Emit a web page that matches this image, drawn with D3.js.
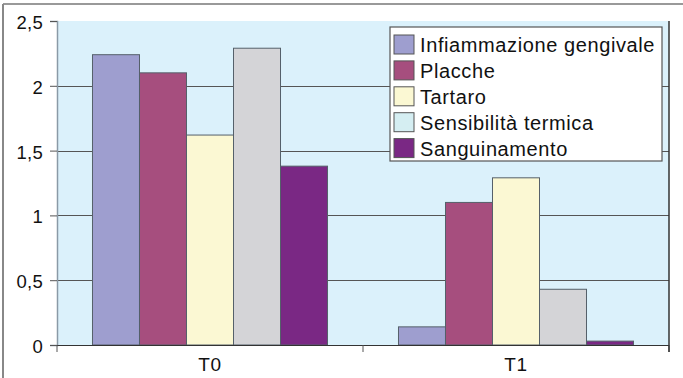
<!DOCTYPE html>
<html>
<head>
<meta charset="utf-8">
<script src="https://cdn.jsdelivr.net/npm/d3@7"></script>
<style>
  html, body { margin: 0; padding: 0; background: #fff; }
  svg { display: block; font-family: "Liberation Sans", Arial, sans-serif; }
</style>
</head>
<body>
<svg id="chart" width="683" height="378"></svg>
<script>
// Periods on the x axis
const categories = ["T0", "T1"];
// Symptom series, one value per period
const seriesNames = ["Infiammazione gengivale", "Placche", "Tartaro", "Sensibilità termica", "Sanguinamento"];
const inflammation = [2.24, 0.14];
const plaque = [2.10, 1.10];
const tartar = [1.62, 1.29];
const sensitivity = [2.29, 0.43];
const bleeding = [1.38, 0.03];
const yTicks = [0, 0.5, 1, 1.5, 2, 2.5];

const seriesValues = [inflammation, plaque, tartar, sensitivity, bleeding];
const barColors = ["#9e9ecf", "#a64e7e", "#fbf8d3", "#d4d4d7", "#7a2884"];
const swatchColors = ["#9e9ecf", "#a64e7e", "#fbf8d3", "#d5eef2", "#7a2884"];

const svg = d3.select("#chart");
const m = { left: 57, right: 669, top: 21, bottom: 345 };

const x0 = d3.scaleBand().domain(categories).range([m.left, m.right]).paddingInner(0).paddingOuter(0);
const x1 = d3.scaleBand().domain(seriesNames).range([0, x0.bandwidth()]).paddingOuter(0.755);
const y = d3.scaleLinear().domain([0, 2.5]).range([m.bottom, m.top]);

// Outer frame (top and left edges)
svg.append("line").attr("x1", 3).attr("x2", 683).attr("y1", 4).attr("y2", 4)
  .attr("stroke", "#777").attr("stroke-width", 1.5);
svg.append("line").attr("x1", 3).attr("x2", 3).attr("y1", 4).attr("y2", 378)
  .attr("stroke", "#888").attr("stroke-width", 2);

// Plot background
svg.append("rect").attr("x", m.left).attr("y", m.top)
  .attr("width", m.right - m.left).attr("height", m.bottom - m.top)
  .attr("fill", "#dbf1fb");

// Horizontal gridlines
svg.append("g").selectAll("line").data(yTicks.filter(d => d > 0 && d < 2.5)).join("line")
  .attr("x1", m.left).attr("x2", m.right)
  .attr("y1", d => Math.round(y(d)) + 0.5).attr("y2", d => Math.round(y(d)) + 0.5)
  .attr("stroke", "#555").attr("stroke-width", 1.2);

// Bars
const groups = svg.append("g").selectAll("g").data(categories).join("g")
  .attr("transform", c => `translate(${x0(c)},0)`);
groups.selectAll("rect")
  .data((c, ci) => seriesNames.map((s, si) => ({ s, si, v: seriesValues[si][ci] })))
  .join("rect")
  .attr("x", d => x1(d.s))
  .attr("y", d => y(d.v))
  .attr("width", x1.bandwidth())
  .attr("height", d => y(0) - y(d.v))
  .attr("fill", d => barColors[d.si])
  .attr("stroke", "#55606a").attr("stroke-width", 1);

// Y axis
const yAxis = d3.axisLeft(y).tickValues(yTicks).tickSize(7).tickPadding(7)
  .tickFormat(d => d3.format("")(d).replace(".", ","));
const ya = svg.append("g").attr("transform", `translate(${m.left},0)`).call(yAxis);
ya.select(".domain").attr("stroke", "#8a9aa6").attr("stroke-width", 1.5);
ya.selectAll(".tick line").attr("stroke", "#555");
ya.selectAll(".tick text").attr("font-size", 18.5).attr("fill", "#111")
  .attr("dy", "0.4em").attr("letter-spacing", "0.3px")
  .attr("font-family", "Liberation Sans, Arial, sans-serif");

// X axis with boundary ticks between periods
const xa = svg.append("g").attr("transform", `translate(0,${m.bottom})`);
xa.append("line").attr("x1", m.left).attr("x2", m.right).attr("y1", 0.5).attr("y2", 0.5)
  .attr("stroke", "#333").attr("stroke-width", 1.2);
const bounds = [m.left, ...categories.map(c => x0(c) + x0.bandwidth())];
xa.selectAll("line.b").data(bounds).join("line").attr("class", "b")
  .attr("x1", d => d).attr("x2", d => d).attr("y1", 0).attr("y2", 7)
  .attr("stroke", "#555");
xa.selectAll("text").data(categories).join("text")
  .attr("x", c => x0(c) + x0.bandwidth() / 2).attr("y", 26)
  .attr("text-anchor", "middle").attr("font-size", 19).attr("letter-spacing", "0.6px")
  .attr("fill", "#111")
  .text(c => c);

// Right border of plot area
svg.append("line").attr("x1", m.right).attr("x2", m.right).attr("y1", m.top).attr("y2", m.bottom + 7)
  .attr("stroke", "#333").attr("stroke-width", 1.5);

// Legend
const lg = svg.append("g").attr("transform", "translate(390,27)");
lg.append("rect").attr("x", 0).attr("y", 0).attr("width", 272).attr("height", 134)
  .attr("fill", "#fff").attr("stroke", "#555").attr("stroke-width", 1.2);
const items = lg.selectAll("g").data(seriesNames).join("g")
  .attr("transform", (d, i) => `translate(4,${8 + i * 25.9})`);
items.append("rect").attr("width", 20).attr("height", 19)
  .attr("fill", (d, i) => swatchColors[i]).attr("stroke", "#555").attr("stroke-width", 1);
items.append("text").attr("x", 26).attr("y", 17).attr("font-size", 20)
  .attr("letter-spacing", "0.6px").attr("fill", "#111")
  .text(d => d);
</script>
</body>
</html>
